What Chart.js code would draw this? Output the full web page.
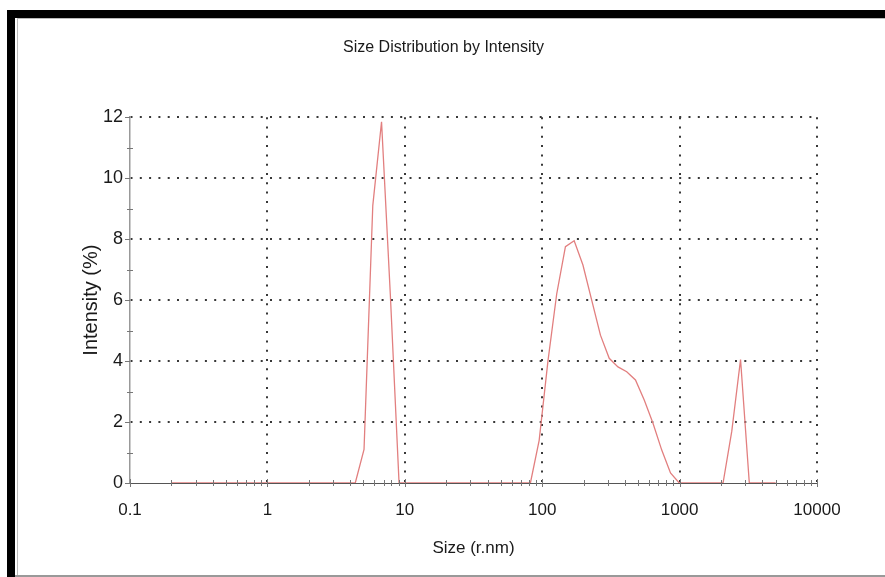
<!DOCTYPE html>
<html>
<head>
<meta charset="utf-8">
<script src="https://cdn.jsdelivr.net/npm/chart.js@4"></script>
<style>
body { margin: 0; background: #fff; }
#wrap { position: relative; width: 885px; height: 577px; overflow: hidden; }
#myChart { position: absolute; left: 0; top: 0; }
.bar { position: absolute; }
</style>
</head>
<body>
<div id="wrap">
  <canvas id="myChart" width="885" height="577"></canvas>
  <div class="bar" style="left:7px;top:10px;width:8px;height:567px;background:#000"></div>
  <div class="bar" style="left:7px;top:10px;width:878px;height:8px;background:#000"></div>
  <div class="bar" style="left:17px;top:18px;width:1px;height:557px;background:#bbb"></div>
  <div class="bar" style="left:17px;top:18px;width:868px;height:1px;background:#bbb"></div>
  <div class="bar" style="left:15px;top:575px;width:870px;height:2px;background:#999"></div>
</div>
<script>
// size classes (r.nm)
var sizes = [0.2, 0.2316, 0.2682, 0.3106, 0.3598, 0.4166, 0.4825, 0.5588, 0.6472, 0.7495,
  0.868, 1.005, 1.164, 1.348, 1.561, 1.808, 2.094, 2.425, 2.808, 3.252,
  3.765, 4.36, 5.05, 5.848, 6.772, 7.843, 9.082, 10.52, 12.18, 14.11,
  16.34, 18.92, 21.91, 25.37, 29.38, 34.03, 39.4, 45.63, 52.84, 61.19,
  70.87, 82.07, 95.04, 110.1, 127.5, 147.6, 170.9, 197.9, 229.2, 265.4,
  307.4, 355.9, 412.2, 477.4, 552.9, 640.2, 741.4, 858.6, 994.3, 1151,
  1333, 1544, 1788, 2071, 2398, 2777, 3216, 3724, 4313, 5000];
// intensity (%)
var intensity = [0, 0, 0, 0, 0, 0, 0, 0, 0, 0,
  0, 0, 0, 0, 0, 0, 0, 0, 0, 0,
  0, 0, 1.1, 9.1, 11.85, 6.2, 0, 0, 0, 0,
  0, 0, 0, 0, 0, 0, 0, 0, 0, 0,
  0, 0, 1.4, 4.0, 6.2, 7.75, 7.95, 7.15, 6.0, 4.85,
  4.09, 3.81, 3.65, 3.38, 2.72, 1.96, 1.08, 0.33, 0, 0,
  0, 0, 0, 0, 1.7, 4.05, 0, 0, 0, 0];

var xTicks = [0.1, 1, 10, 100, 1000, 10000];
var yTicks = [0, 2, 4, 6, 8, 10, 12];
var chartTitle = 'Size Distribution by Intensity';
var xTitle = 'Size (r.nm)';
var yTitle = 'Intensity (%)';

var fontFam = '"Liberation Sans", Arial, sans-serif';

// small tick marks along both axes
var minorTicks = {
  id: 'minorTicks',
  afterDatasetsDraw(chart) {
    const ctx = chart.ctx;
    const x = chart.scales.x, y = chart.scales.y;
    const area = chart.chartArea;
    ctx.save();
    ctx.strokeStyle = '#777';
    ctx.lineWidth = 1;
    ctx.beginPath();
    for (let d = 0; d < xTicks.length - 1; d++) {
      for (let k = 2; k < 10; k++) {
        const px = Math.round(x.getPixelForValue(xTicks[d] * k)) + 0.5;
        ctx.moveTo(px, area.bottom - 3);
        ctx.lineTo(px, area.bottom + 3);
      }
    }
    xTicks.forEach(v => {
      const px = Math.round(x.getPixelForValue(v)) + 0.5;
      ctx.moveTo(px, area.bottom - 4);
      ctx.lineTo(px, area.bottom + 4);
    });
    for (let v = 1; v < 12; v += 2) {
      const py = Math.round(y.getPixelForValue(v)) + 0.5;
      ctx.moveTo(area.left - 3, py);
      ctx.lineTo(area.left + 3, py);
    }
    yTicks.forEach(v => {
      const py = Math.round(y.getPixelForValue(v)) + 0.5;
      ctx.moveTo(area.left - 5, py);
      ctx.lineTo(area.left, py);
    });
    ctx.stroke();
    ctx.restore();
  }
};

let chart = document.getElementById('myChart').getContext('2d');

let sizeChart = new Chart(chart, {
  type: 'line',
  data: {
    datasets: [{
      data: sizes.map((s, i) => ({ x: s, y: intensity[i] })),
      borderColor: '#e27f7f',
      borderWidth: 1.3,
      pointRadius: 0,
      tension: 0,
      fill: false
    }]
  },
  options: {
    responsive: false,
    animation: false,
    devicePixelRatio: 1,
    layout: { padding: { left: 70, right: 68, top: 0, bottom: 0 } },
    plugins: {
      legend: { display: false },
      tooltip: { enabled: false },
      title: {
        display: true,
        text: chartTitle,
        color: '#1a1a1a',
        font: { family: fontFam, size: 16, weight: 'normal' },
        padding: { top: 38, bottom: 60 }
      }
    },
    scales: {
      x: {
        type: 'logarithmic',
        min: 0.1,
        max: 10000,
        afterBuildTicks: s => { s.ticks = xTicks.map(v => ({ value: v })); },
        afterFit: s => { s.height = 94; },
        ticks: {
          autoSkip: false,
          maxRotation: 0,
          padding: 17,
          color: '#1a1a1a',
          font: { family: fontFam, size: 17 },
          callback: v => String(v)
        },
        grid: {
          drawTicks: false,
          lineWidth: 2,
          color: c => (c.tick && c.tick.value === 0.1) ? 'rgba(0,0,0,0)' : '#383838'
        },
        border: { display: true, color: '#555', width: 1, dash: [2, 7.3] },
        title: {
          display: true,
          text: xTitle,
          color: '#1a1a1a',
          font: { family: fontFam, size: 17 },
          padding: { top: 0, bottom: 18.8 }
        }
      },
      y: {
        min: 0,
        max: 12,
        afterBuildTicks: s => { s.ticks = yTicks.map(v => ({ value: v })); },
        afterFit: s => { s.width = 60; },
        ticks: {
          padding: 7,
          color: '#1a1a1a',
          font: { family: fontFam, size: 18 }
        },
        grid: {
          drawTicks: false,
          lineWidth: 2,
          color: c => (c.tick && c.tick.value === 0) ? 'rgba(0,0,0,0)' : '#383838'
        },
        border: { display: true, color: '#999', width: 1.5, dash: [2, 7.3] },
        title: {
          display: true,
          text: yTitle,
          color: '#1a1a1a',
          font: { family: fontFam, size: 20 },
          padding: { top: 9, bottom: 0 }
        }
      }
    }
  },
  plugins: [minorTicks]
});
</script>
</body>
</html>
